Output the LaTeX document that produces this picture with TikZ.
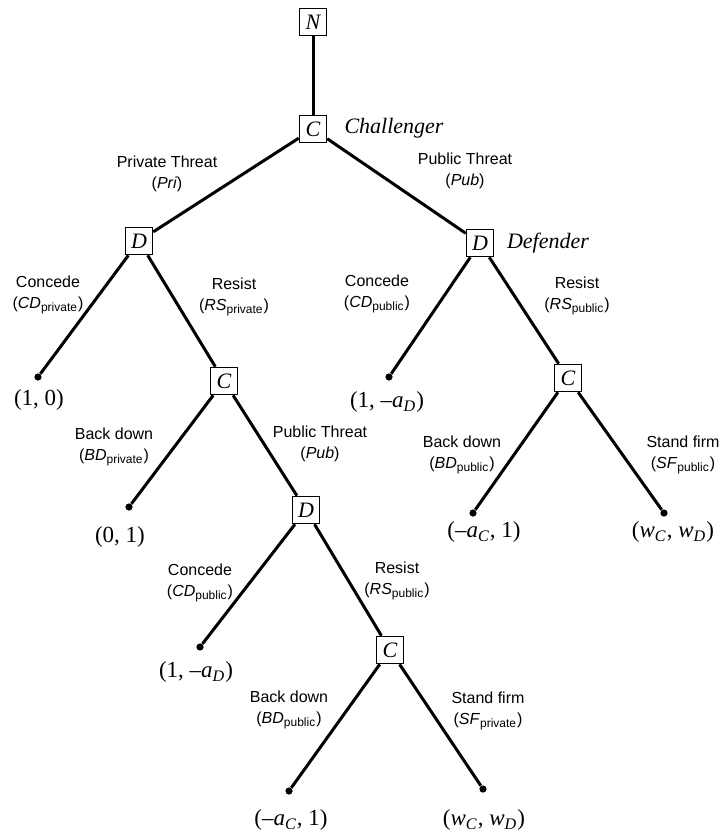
\documentclass[tikz,border=0pt]{standalone}
\usepackage{fontspec}
\setmainfont{Liberation Serif}
\setsansfont{Liberation Sans}
\newcommand{\isub}[2]{\textit{#1}\textsubscript{\textit{#2}}}
\newcommand{\ssub}[2]{\textit{#1}\textsubscript{#2}}
\tikzset{
  player/.style={draw,line width=0.8pt,minimum size=13.5pt,inner sep=0pt,fill=white,font=\fontsize{11}{11}\selectfont\itshape},
  leaf/.style={circle,fill,inner sep=0pt,minimum size=3.6pt},
  act/.style={align=center,font=\sffamily\fontsize{8}{10.2}\selectfont},
  pay/.style={font=\fontsize{11.5}{13}\selectfont},
  who/.style={font=\fontsize{11}{13}\selectfont\itshape},
  branch/.style={line width=1.5pt}
}
\begin{document}
\begin{tikzpicture}[x=0.5pt,y=-0.5pt]
  \useasboundingbox (0,0) rectangle (722,837);
  % decision nodes
  \node[player] (nat) at (313,22) {N};
  \node[player] (chal) at (313,129) {C};
  \node[player] (defpri) at (139,241) {D};
  \node[player] (defpub) at (480,243) {D};
  \node[player] (chalpri) at (224,381) {C};
  \node[player] (chalpub) at (568,378) {C};
  \node[player] (defesc) at (306,510) {D};
  \node[player] (chalesc) at (390,650) {C};
  \node[who] (challabel) at (394,128) {Challenger};
  \node[who] (deflabel) at (548,243) {Defender};
  % terminal nodes
  \node[leaf] (endA) at (38,377) {};
  \node[leaf] (endB) at (389,377) {};
  \node[leaf] (endC) at (129,507) {};
  \node[leaf] (endD) at (473,513) {};
  \node[leaf] (endE) at (664,513) {};
  \node[leaf] (endF) at (200,647) {};
  \node[leaf] (endG) at (289,791) {};
  \node[leaf] (endH) at (483,789) {};
  % branches
  \draw[branch] (nat) -- (chal);
  \draw[branch] (chal) -- (defpri);
  \draw[branch] (chal) -- (defpub);
  \draw[branch] (defpri) -- (endA);
  \draw[branch] (defpri) -- (chalpri);
  \draw[branch] (defpub) -- (endB);
  \draw[branch] (defpub) -- (chalpub);
  \draw[branch] (chalpri) -- (endC);
  \draw[branch] (chalpri) -- (defesc);
  \draw[branch] (chalpub) -- (endD);
  \draw[branch] (chalpub) -- (endE);
  \draw[branch] (defesc) -- (endF);
  \draw[branch] (defesc) -- (chalesc);
  \draw[branch] (chalesc) -- (endG);
  \draw[branch] (chalesc) -- (endH);
  % moves
  \node[act] (mvpri) at (167,174) {Private Threat\\(\textit{Pri})};
  \node[act] (mvpub) at (465,171) {Public Threat\\(\textit{Pub})};
  \node[act] (mvcda) at (48,295) {Concede\\(\ssub{CD}{private})};
  \node[act] (mvrsa) at (234,297) {Resist\\(\ssub{RS}{private})};
  \node[act] (mvcdb) at (377,294) {Concede\\(\ssub{CD}{public})};
  \node[act] (mvrsb) at (577,296) {Resist\\(\ssub{RS}{public})};
  \node[act] (mvbda) at (114,447) {Back down\\(\ssub{BD}{private})};
  \node[act] (mvesc) at (320,444) {Public Threat\\(\textit{Pub})};
  \node[act] (mvbdb) at (462,455) {Back down\\(\ssub{BD}{public})};
  \node[act] (mvsfa) at (683,455) {Stand firm\\(\ssub{SF}{public})};
  \node[act] (mvcdc) at (200,583) {Concede\\(\ssub{CD}{public})};
  \node[act] (mvrsc) at (397,581) {Resist\\(\ssub{RS}{public})};
  \node[act] (mvbdc) at (289,710) {Back down\\(\ssub{BD}{public})};
  \node[act] (mvsfb) at (488,711) {Stand firm\\(\ssub{SF}{private})};
  % payoffs
  \node[pay] (payA) at (39,400) {(1, 0)};
  \node[pay] (payB) at (387,402) {(1, --\isub{a}{D})};
  \node[pay] (payC) at (120,537) {(0, 1)};
  \node[pay] (payD) at (484,532) {(--\isub{a}{C}, 1)};
  \node[pay] (payE) at (673,532) {(\isub{w}{C}, \isub{w}{D})};
  \node[pay] (payF) at (196,672) {(1, --\isub{a}{D})};
  \node[pay] (payG) at (291,820) {(--\isub{a}{C}, 1)};
  \node[pay] (payH) at (484,820) {(\isub{w}{C}, \isub{w}{D})};
\end{tikzpicture}
\end{document}
